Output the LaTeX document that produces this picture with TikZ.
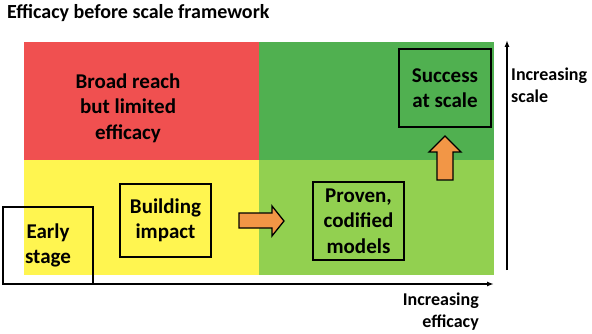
\documentclass[tikz,border=0pt]{standalone}
\usepackage{fontspec}
\setmainfont{Carlito}
\usetikzlibrary{arrows.meta}
\definecolor{qred}{RGB}{240,80,80}
\definecolor{qdgreen}{RGB}{80,176,80}
\definecolor{qlgreen}{RGB}{146,208,80}
\definecolor{qyellow}{RGB}{255,245,80}
\definecolor{arrowor}{RGB}{242,150,70}
\begin{document}
\begin{tikzpicture}[x=1pt,y=-1pt,
  lbl/.style={font=\bfseries\fontsize{21}{25.5}\selectfont, align=center, inner sep=0pt},
  box/.style={draw=black, line width=1.2pt, lbl},
  small/.style={font=\bfseries\fontsize{18}{21.5}\selectfont, inner sep=0pt},
  blockarrow/.style={fill=arrowor, draw=black, line width=1.3pt, line join=miter},
  axisline/.style={line width=1.5pt, -{Latex[length=7pt,width=5pt]}}
]
\useasboundingbox (0,0) rectangle (592,334);
% quadrants
\fill[qred] (24,42) rectangle (259,160);
\fill[qdgreen] (259,42) rectangle (494,160);
\fill[qyellow] (24,160) rectangle (259,275);
\fill[qlgreen] (259,160) rectangle (494,275);
% title
\node[font=\bfseries\fontsize{20}{24}\selectfont, anchor=base west, inner sep=0pt] (title) at (7,19) {Efficacy before scale framework};
% quadrant label
\node[lbl] (broad) at (128,108) {Broad reach\\but limited\\efficacy};
% boxes
\node[box, minimum width=90, minimum height=77] (early) at (48,245.5) {Early\\stage};
\node[box, minimum width=91, minimum height=73] (build) at (165.5,220.5) {Building\\impact};
\node[box, minimum width=91, minimum height=78] (proven) at (358.5,221) {Proven,\\codified\\models};
\node[box, minimum width=92, minimum height=78] (success) at (445,88) {Success\\at scale};
% block arrows
\draw[blockarrow] (239,213) -- (272,213) -- (272,206) -- (284,221) -- (272,236) -- (272,228) -- (239,228) -- cycle;
\draw[blockarrow] (437,180) -- (437,152) -- (429,152) -- (445,136) -- (461,152) -- (453,152) -- (453,180) -- cycle;
% axes
\coordinate (xs) at (3,284);
\coordinate (xe) at (494,284);
\coordinate (ys) at (507,270);
\coordinate (ye) at (507,40);
\draw[axisline] (xs) -- (xe);
\draw[axisline] (ys) -- (ye);
\node[small, anchor=north west, align=left] (yl) at (511,68) {Increasing\\scale};
\node[small, anchor=north east, align=right] (xl) at (479,293) {Increasing\\efficacy};
\end{tikzpicture}
\end{document}
